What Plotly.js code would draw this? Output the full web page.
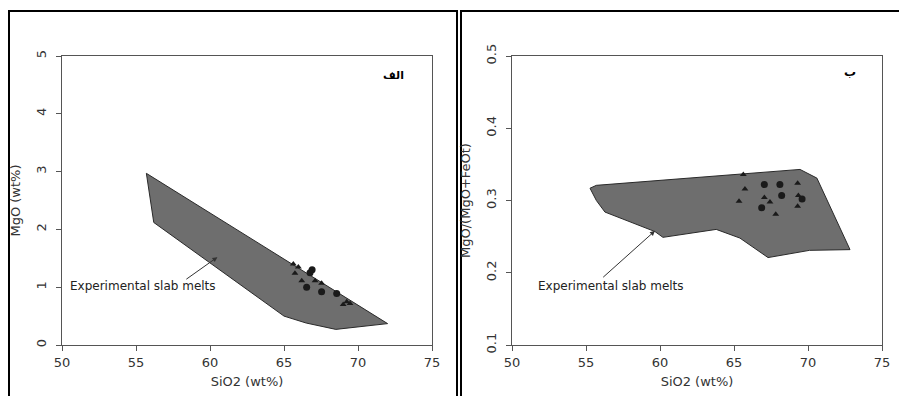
<!DOCTYPE html>
<html>
<head>
<meta charset="utf-8">
<script src="https://cdn.plot.ly/plotly-3.0.1.min.js"></script>
<style>html,body{margin:0;padding:0;background:#fff;}#chart{width:899px;height:396px;}</style>
</head>
<body>
<div id="chart"></div>
<script>
// Panel A: MgO vs SiO2
const fieldA_x = [55.7, 56.2, 65.0, 66.5, 68.5, 72.0, 55.7];
const fieldA_y = [2.97, 2.12, 0.50, 0.38, 0.27, 0.37, 2.97];
const triA_x = [65.63, 65.97, 65.74, 66.2, 67.1, 67.54, 69.24, 69.46, 69.0];
const triA_y = [1.40, 1.35, 1.24, 1.11, 1.11, 1.07, 0.75, 0.72, 0.70];
const cirA_x = [66.76, 66.9, 66.53, 67.54, 68.56];
const cirA_y = [1.25, 1.30, 1.00, 0.92, 0.89];

// Panel B: MgO/(MgO+FeOt) vs SiO2
const fieldB_x = [55.27, 55.7, 69.46, 70.6, 72.84, 70.1, 67.3, 65.4, 63.8, 60.2, 59.66, 56.28, 55.7, 55.27];
const fieldB_y = [0.317, 0.321, 0.343, 0.331, 0.232, 0.231, 0.221, 0.248, 0.260, 0.249, 0.257, 0.284, 0.300, 0.317];
const triB_x = [65.63, 65.74, 65.34, 67.05, 67.43, 67.82, 69.3, 69.35, 69.3];
const triB_y = [0.336, 0.316, 0.299, 0.304, 0.298, 0.281, 0.324, 0.307, 0.292];
const cirB_x = [67.05, 68.1, 68.22, 66.87, 69.6];
const cirB_y = [0.322, 0.322, 0.307, 0.290, 0.302];

const xTicks = [50, 55, 60, 65, 70, 75];
const yTicksA = [0, 1, 2, 3, 4, 5];
const yTicksB = [0.1, 0.2, 0.3, 0.4, 0.5];

const W = 899, H = 396;
const fieldFill = 'rgb(110,110,110)';
const markColor = '#1a1a1a';

function field(x, y, xa, ya) {
  return {x: x, y: y, xaxis: xa, yaxis: ya, type: 'scatter', mode: 'lines', fill: 'toself',
    fillcolor: fieldFill, line: {color: '#2a2a2a', width: 1}, hoverinfo: 'skip', showlegend: false};
}
function pts(x, y, xa, ya, sym, size) {
  return {x: x, y: y, xaxis: xa, yaxis: ya, type: 'scatter', mode: 'markers',
    marker: {symbol: sym, size: size, color: markColor}, showlegend: false};
}

const data = [
  field(fieldA_x, fieldA_y, 'x', 'y'),
  pts(triA_x, triA_y, 'x', 'y', 'triangle-up', 6),
  pts(cirA_x, cirA_y, 'x', 'y', 'circle', 7),
  field(fieldB_x, fieldB_y, 'x2', 'y2'),
  pts(triB_x, triB_y, 'x2', 'y2', 'triangle-up', 6),
  pts(cirB_x, cirB_y, 'x2', 'y2', 'circle', 7)
];

const FAM = 'DejaVu Sans, Liberation Sans, Arial, sans-serif';
const tickFont = {family: FAM, size: 13, color: '#333'};
const titleFont = {family: FAM, size: 13, color: '#333'};
const yDom = [(H - 345) / H, (H - 56) / H];

function xax(dom, anchor) {
  return {domain: dom, anchor: anchor, range: [50, 75], tickvals: xTicks, ticktext: xTicks.map(String),
    ticks: 'outside', ticklen: 5, tickcolor: '#555', linecolor: '#555', linewidth: 1, mirror: true,
    showgrid: false, zeroline: false, tickfont: tickFont,
    title: {text: 'SiO2 (wt%)', font: titleFont, standoff: 8}};
}
function yax(anchor, range, vals, title) {
  return {domain: yDom, anchor: anchor, range: range, tickvals: vals, ticktext: vals.map(String),
    ticks: 'outside', ticklen: 5, tickcolor: '#555', linecolor: '#555', linewidth: 1, mirror: true,
    showgrid: false, zeroline: false, tickfont: tickFont, tickangle: -90, ticklabelstandoff: 5,
    title: {text: title, font: titleFont, standoff: 10}};
}

const annFont = {family: FAM, size: 12, color: '#222'};
const layout = {
  width: W, height: H, margin: {l: 0, r: 0, t: 0, b: 0},
  paper_bgcolor: '#fff', plot_bgcolor: '#fff', showlegend: false,
  xaxis: xax([62 / W, 432 / W], 'y'),
  yaxis: yax('x', [0, 5], yTicksA, 'MgO (wt%)'),
  xaxis2: xax([512 / W, 882 / W], 'y2'),
  yaxis2: yax('x2', [0.1, 0.5], yTicksB, 'MgO/(MgO+FeOt)'),
  shapes: [
    {type: 'rect', xref: 'paper', yref: 'paper', x0: 9 / W, x1: 457 / W, y0: -0.05, y1: (H - 11) / H,
      line: {color: '#000', width: 2}},
    {type: 'rect', xref: 'paper', yref: 'paper', x0: 461 / W, x1: 1.05, y0: -0.05, y1: (H - 11) / H,
      line: {color: '#000', width: 2}}
  ],
  annotations: [
    {xref: 'x', yref: 'y', x: 60.5, y: 1.52, axref: 'x', ayref: 'y', ax: 58.3, ay: 1.12, text: '',
      showarrow: true, arrowhead: 2, arrowsize: 1, arrowwidth: 1, arrowcolor: '#333'},
    {xref: 'x', yref: 'y', x: 55.5, y: 1.02, text: 'Experimental slab melts', showarrow: false, font: annFont},
    {xref: 'x2', yref: 'y2', x: 59.66, y: 0.258, axref: 'x2', ayref: 'y2', ax: 56.06, ay: 0.192, text: '',
      showarrow: true, arrowhead: 2, arrowsize: 1, arrowwidth: 1, arrowcolor: '#333'},
    {xref: 'x2', yref: 'y2', x: 56.72, y: 0.182, text: 'Experimental slab melts', showarrow: false, font: annFont},
    {xref: 'x', yref: 'y', x: 72.4, y: 4.67, text: '<b>الف</b>', showarrow: false,
      font: {family: 'DejaVu Sans, Noto Sans, sans-serif', size: 11, color: '#000'}},
    {xref: 'x2', yref: 'y2', x: 72.84, y: 0.478, text: '<b>ب</b>', showarrow: false,
      font: {family: 'DejaVu Sans, Noto Sans, sans-serif', size: 12, color: '#000'}}
  ]
};

Plotly.newPlot('chart', data, layout, {staticPlot: true, displayModeBar: false});
</script>
</body>
</html>
